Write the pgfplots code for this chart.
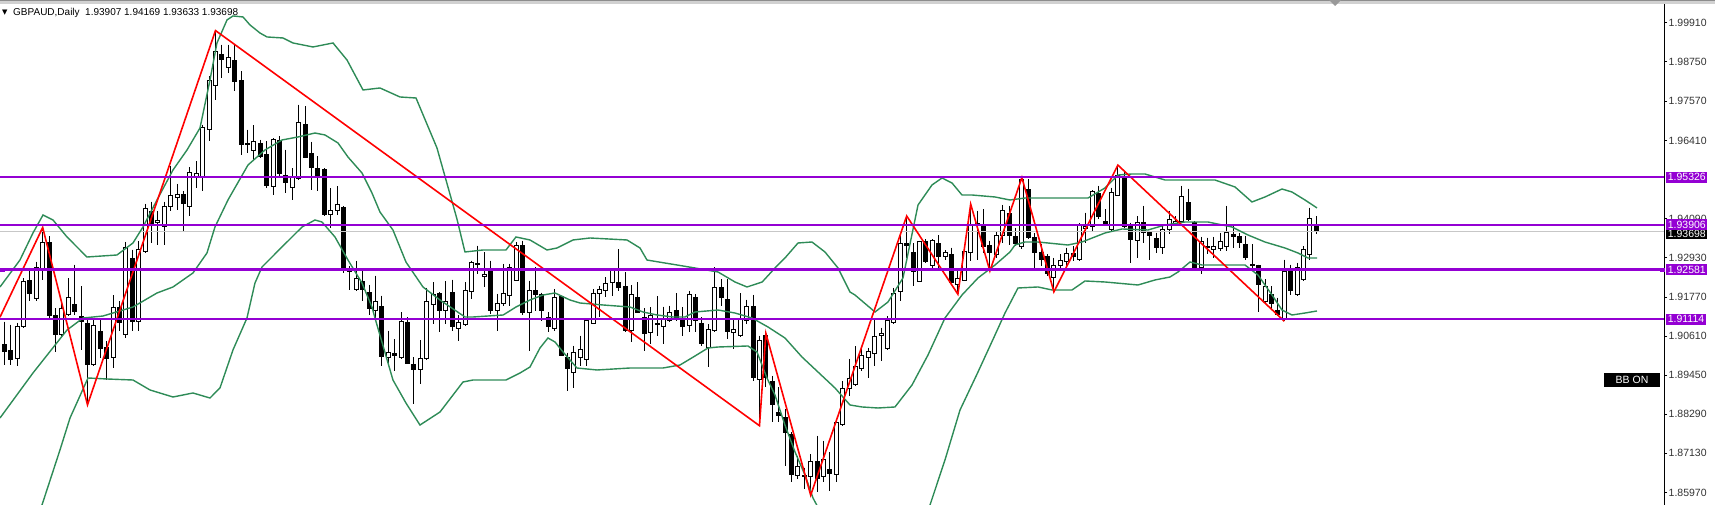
\documentclass[border=0pt]{standalone}
\usepackage{fontspec}
\setmainfont{Liberation Sans}
\newfontfamily\symfont{DejaVu Sans}
\usepackage{pgfplots}
\usepackage{pgfplotstable}
\pgfplotsset{compat=1.18}

\definecolor{bbgreen}{RGB}{46,139,87}
\definecolor{lvl}{RGB}{148,0,211}
\definecolor{zz}{RGB}{255,0,0}

% daily candles
\pgfplotstableread{
i o h l c
1 1.9035 1.9104 1.8976 1.9015
2 1.9017 1.9095 1.8976 1.8991
3 1.8994 1.9100 1.8971 1.9090
4 1.9090 1.9233 1.9085 1.9223
5 1.9225 1.9263 1.9164 1.9186
6 1.9171 1.9282 1.9164 1.9263
7 1.9258 1.9383 1.9228 1.9339
8 1.9339 1.9357 1.9114 1.9122
9 1.9122 1.9144 1.9015 1.9065
10 1.9065 1.9159 1.9055 1.9144
11 1.9124 1.9233 1.9119 1.9176
12 1.9154 1.9273 1.9124 1.9134
13 1.9119 1.9208 1.9020 1.9104
14 1.9097 1.9109 1.8857 1.8976
15 1.8976 1.9109 1.8971 1.9093
16 1.9075 1.9114 1.8996 1.9025
17 1.9027 1.9045 1.8931 1.8994
18 1.8996 1.9182 1.8966 1.9147
19 1.9146 1.9164 1.9075 1.9100
20 1.9065 1.9340 1.9055 1.9324
21 1.9290 1.9317 1.9075 1.9104
22 1.9104 1.9342 1.9075 1.9317
23 1.9312 1.9453 1.9307 1.9438
24 1.9429 1.9460 1.9337 1.9396
25 1.9397 1.9431 1.9332 1.9404
26 1.9386 1.9460 1.9332 1.9444
27 1.9446 1.9564 1.9431 1.9478
28 1.9472 1.9512 1.9436 1.9480
29 1.9480 1.9490 1.9370 1.9453
30 1.9446 1.9562 1.9416 1.9547
31 1.9530 1.9579 1.9500 1.9544
32 1.9530 1.9688 1.9490 1.9680
33 1.9673 1.9831 1.9639 1.9819
34 1.9805 1.9967 1.9762 1.9906
35 1.9896 1.9925 1.9826 1.9881
36 1.9858 1.9925 1.9841 1.9886
37 1.9878 1.9925 1.9787 1.9817
38 1.9819 1.9846 1.9599 1.9629
39 1.9632 1.9673 1.9604 1.9629
40 1.9611 1.9686 1.9584 1.9639
41 1.9632 1.9643 1.9589 1.9594
42 1.9599 1.9639 1.9500 1.9508
43 1.9505 1.9648 1.9478 1.9645
44 1.9641 1.9653 1.9530 1.9542
45 1.9537 1.9614 1.9485 1.9515
46 1.9502 1.9559 1.9465 1.9530
47 1.9528 1.9747 1.9525 1.9693
48 1.9688 1.9742 1.9589 1.9591
49 1.9601 1.9637 1.9495 1.9561
50 1.9559 1.9594 1.9490 1.9535
51 1.9554 1.9559 1.9416 1.9421
52 1.9421 1.9500 1.9381 1.9433
53 1.9433 1.9505 1.9421 1.9451
54 1.9443 1.9446 1.9248 1.9263
55 1.9261 1.9268 1.9198 1.9251
56 1.9198 1.9284 1.9195 1.9233
57 1.9223 1.9258 1.9164 1.9198
58 1.9191 1.9213 1.9124 1.9142
59 1.9136 1.9240 1.9112 1.9163
60 1.9149 1.9181 1.8973 1.9000
61 1.8998 1.9077 1.8973 1.9011
62 1.9008 1.9052 1.8958 1.9004
63 1.8998 1.9131 1.8993 1.9104
64 1.9100 1.9117 1.8978 1.8980
65 1.8978 1.8998 1.8859 1.8963
66 1.8963 1.9049 1.8919 1.8993
67 1.8993 1.9204 1.8990 1.9163
68 1.9156 1.9220 1.9097 1.9183
69 1.9186 1.9191 1.9072 1.9138
70 1.9136 1.9223 1.9097 1.9163
71 1.9191 1.9228 1.9077 1.9089
72 1.9082 1.9122 1.9047 1.9102
73 1.9095 1.9220 1.9092 1.9196
74 1.9193 1.9285 1.9171 1.9280
75 1.9277 1.9329 1.9245 1.9273
76 1.9238 1.9309 1.9206 1.9245
77 1.9255 1.9285 1.9126 1.9136
78 1.9138 1.9186 1.9077 1.9158
79 1.9158 1.9275 1.9151 1.9186
80 1.9181 1.9275 1.9151 1.9265
81 1.9225 1.9339 1.9225 1.9329
82 1.9329 1.9344 1.9122 1.9131
83 1.9131 1.9225 1.9018 1.9196
84 1.9196 1.9265 1.9136 1.9184
85 1.9184 1.9190 1.9106 1.9136
86 1.9116 1.9131 1.9072 1.9090
87 1.9082 1.9200 1.9077 1.9176
88 1.9178 1.9181 1.9002 1.9004
89 1.8998 1.9012 1.8899 1.8965
90 1.8953 1.9032 1.8906 1.9012
91 1.8998 1.9062 1.8973 1.9022
92 1.8991 1.9111 1.8973 1.9106
93 1.9099 1.9200 1.9096 1.9188
94 1.9188 1.9210 1.9116 1.9198
95 1.9195 1.9235 1.9176 1.9218
96 1.9220 1.9260 1.9181 1.9255
97 1.9220 1.9319 1.9195 1.9205
98 1.9207 1.9250 1.9072 1.9077
99 1.9077 1.9212 1.9042 1.9185
100 1.9176 1.9220 1.9129 1.9131
101 1.9116 1.9143 1.9017 1.9070
102 1.9072 1.9146 1.9037 1.9121
103 1.9099 1.9179 1.9062 1.9095
104 1.9090 1.9148 1.9037 1.9111
105 1.9106 1.9151 1.9103 1.9131
106 1.9136 1.9188 1.9106 1.9113
107 1.9113 1.9146 1.9062 1.9090
108 1.9092 1.9195 1.9072 1.9185
109 1.9176 1.9185 1.9072 1.9106
110 1.9099 1.9116 1.9032 1.9040
111 1.9027 1.9096 1.8968 1.9080
112 1.9077 1.9265 1.9072 1.9205
113 1.9205 1.9230 1.9151 1.9176
114 1.9168 1.9230 1.9052 1.9074
115 1.9072 1.9111 1.9022 1.9079
116 1.9062 1.9188 1.9057 1.9111
117 1.9106 1.9169 1.9096 1.9149
118 1.9149 1.9183 1.8928 1.8938
119 1.8933 1.9062 1.8795 1.9047
120 1.9064 1.9069 1.8909 1.8938
121 1.8925 1.8943 1.8805 1.8859
122 1.8834 1.8909 1.8805 1.8824
123 1.8820 1.8844 1.8676 1.8775
124 1.8770 1.8775 1.8627 1.8651
125 1.8648 1.8706 1.8637 1.8674
126 1.8648 1.8671 1.8607 1.8644
127 1.8644 1.8711 1.8589 1.8688
128 1.8688 1.8765 1.8597 1.8638
129 1.8644 1.8750 1.8627 1.8694
130 1.8666 1.8716 1.8602 1.8654
131 1.8651 1.8805 1.8627 1.8805
132 1.8800 1.8928 1.8795 1.8904
133 1.8904 1.8993 1.8884 1.8935
134 1.8918 1.9031 1.8913 1.8970
135 1.8964 1.9031 1.8957 1.9002
136 1.8997 1.9026 1.8937 1.9016
137 1.9010 1.9110 1.8972 1.9059
138 1.9064 1.9086 1.8987 1.9068
139 1.9023 1.9120 1.9021 1.9107
140 1.9100 1.9204 1.9096 1.9188
141 1.9192 1.9366 1.9165 1.9336
142 1.9335 1.9417 1.9293 1.9330
143 1.9308 1.9336 1.9209 1.9251
144 1.9224 1.9343 1.9221 1.9341
145 1.9340 1.9348 1.9279 1.9281
146 1.9269 1.9348 1.9254 1.9345
147 1.9336 1.9360 1.9254 1.9298
148 1.9296 1.9316 1.9288 1.9308
149 1.9302 1.9323 1.9219 1.9221
150 1.9214 1.9254 1.9185 1.9231
151 1.9227 1.9318 1.9224 1.9313
152 1.9308 1.9452 1.9284 1.9389
153 1.9389 1.9432 1.9288 1.9394
154 1.9387 1.9437 1.9308 1.9328
155 1.9330 1.9343 1.9254 1.9308
156 1.9303 1.9370 1.9293 1.9360
157 1.9358 1.9450 1.9338 1.9434
158 1.9424 1.9447 1.9330 1.9360
159 1.9356 1.9382 1.9328 1.9336
160 1.9326 1.9531 1.9318 1.9526
161 1.9496 1.9526 1.9348 1.9353
162 1.9353 1.9366 1.9254 1.9308
163 1.9308 1.9333 1.9269 1.9288
164 1.9296 1.9303 1.9239 1.9246
165 1.9234 1.9293 1.9192 1.9269
166 1.9271 1.9303 1.9259 1.9286
167 1.9283 1.9323 1.9259 1.9306
168 1.9306 1.9328 1.9283 1.9298
169 1.9288 1.9395 1.9283 1.9390
170 1.9379 1.9427 1.9338 1.9387
171 1.9387 1.9493 1.9372 1.9489
172 1.9483 1.9506 1.9407 1.9415
173 1.9402 1.9437 1.9387 1.9390
174 1.9377 1.9501 1.9372 1.9488
175 1.9478 1.9568 1.9476 1.9536
176 1.9534 1.9548 1.9382 1.9387
177 1.9392 1.9397 1.9277 1.9346
178 1.9343 1.9417 1.9293 1.9399
179 1.9397 1.9447 1.9338 1.9369
180 1.9368 1.9372 1.9288 1.9358
181 1.9350 1.9368 1.9308 1.9323
182 1.9323 1.9389 1.9303 1.9377
183 1.9377 1.9432 1.9363 1.9407
184 1.9389 1.9417 1.9387 1.9402
185 1.9402 1.9506 1.9397 1.9474
186 1.9458 1.9498 1.9402 1.9407
187 1.9399 1.9402 1.9259 1.9264
188 1.9264 1.9355 1.9244 1.9340
189 1.9328 1.9353 1.9303 1.9323
190 1.9318 1.9355 1.9293 1.9328
191 1.9320 1.9367 1.9313 1.9340
192 1.9328 1.9447 1.9313 1.9369
193 1.9363 1.9392 1.9323 1.9356
194 1.9356 1.9367 1.9323 1.9338
195 1.9333 1.9358 1.9288 1.9293
196 1.9273 1.9333 1.9254 1.9271
197 1.9271 1.9273 1.9133 1.9214
198 1.9162 1.9229 1.9160 1.9209
199 1.9184 1.9209 1.9138 1.9158
200 1.9138 1.9175 1.9120 1.9125
201 1.9110 1.9288 1.9105 1.9251
202 1.9254 1.9273 1.9184 1.9197
203 1.9184 1.9278 1.9180 1.9264
204 1.9229 1.9328 1.9224 1.9318
205 1.9303 1.9442 1.9288 1.9410
206 1.93907 1.94169 1.93633 1.93698
}\candles

\pgfplotsset{
  mt4/.style={
    at={(0pt,0pt)}, anchor=south west,
    scale only axis, width=1664pt, height=501pt,
    xmin=0.33, xmax=260.33, ymin=1.85599, ymax=2.00458,
  },
}

\begin{document}
\begin{tikzpicture}[x=1pt,y=1pt]

% wicks (high down to low)
\begin{axis}[mt4, hide axis]
\addplot[black, only marks, mark=*, mark size=0pt, mark options={draw=none, fill=none},
  error bars/.cd, y dir=minus, y explicit, error mark=none,
  error bar style={line width=1pt, black}]
  table[x=i, y=h, y error expr=\thisrow{h}-\thisrow{l}] {\candles};
\end{axis}

% bodies: invisible base, then bear and bull parts
\begin{axis}[mt4, hide axis, ybar stacked, bar width=4pt]
\addplot[draw=none, fill=none] table[x=i, y expr={min(\thisrow{o},\thisrow{c})}] {\candles};
\addplot[draw=black, fill=black, line width=1pt] table[x=i, y expr={max(\thisrow{o}-\thisrow{c},0)}] {\candles};
\addplot[draw=black, fill=white, line width=1pt] table[x=i, y expr={max(\thisrow{c}-\thisrow{o},0)}] {\candles};
\end{axis}

% indicators, levels, price scale
\begin{axis}[mt4, axis x line=none, axis y line*=right, clip mode=individual,
  ytick={1.9991,1.9875,1.9757,1.9641,1.9409,1.9293,1.9177,1.9061,1.8945,1.8829,1.8713,1.8597},
  yticklabels={1.99910,1.98750,1.97570,1.96410,1.94090,1.92930,1.91770,1.90610,1.89450,1.88290,1.87130,1.85970},
  tick align=outside, major tick length=3pt,
  y axis line style={line width=1pt, black},
  ytick style={line width=0.8pt, black},
  yticklabel style={font=\fontsize{10.5}{12}\selectfont, inner sep=0pt, xshift=1.5pt, text=black!80}]

\addplot[black!22, line width=1pt] coordinates {(0.33,1.93698) (260.33,1.93698)};

% Bollinger bands
\addplot[bbgreen, line width=1.4pt] coordinates {
(0.33,1.92065) (3.45,1.92865) (5.48,1.93666) (7.05,1.94200) (8.61,1.94052) (10.80,1.93548) (13.92,1.92954) (18.61,1.93014) (21.11,1.93370) (22.67,1.93844) (24.86,1.94645) (27.36,1.95535) (29.55,1.96128) (31.58,1.96781) (33.14,1.98204) (34.23,1.99302) (35.80,1.99984) (36.73,2.00103) (38.30,2.00073) (39.39,1.99836) (40.95,1.99598) (42.05,1.99480) (44.55,1.99450) (46.11,1.99302) (49.23,1.99183) (52.36,1.99302) (54.55,1.98797) (57.05,1.97908) (59.70,1.97967) (62.83,1.97700) (65.33,1.97670) (68.61,1.96187) (71.73,1.94081) (72.98,1.93103) (75.80,1.93162) (79.39,1.93162) (80.95,1.93548) (83.14,1.93459) (85.80,1.93162) (87.36,1.93221) (89.86,1.93459) (92.52,1.93518) (98.30,1.93459) (100.33,1.93221) (101.42,1.92865) (106.11,1.92717) (108.92,1.92628) (112.52,1.92510) (115.17,1.92213) (117.05,1.92065) (119.42,1.92213) (121.42,1.92628) (122.98,1.92925) (125.02,1.93370) (127.20,1.93399) (129.23,1.93103) (131.27,1.92628) (133.14,1.91916) (133.92,1.91827) (137.05,1.91323) (139.08,1.91620) (141.42,1.92332) (143.77,1.94497) (145.95,1.95090) (147.52,1.95298) (149.08,1.95149) (150.64,1.94793) (152.20,1.94793) (155.80,1.94734) (158.14,1.94645) (160.48,1.94704) (170.33,1.94704) (172.98,1.95001) (175.02,1.95386) (177.20,1.95416) (179.23,1.95416) (182.36,1.95238) (190.17,1.95238) (193.30,1.95031) (195.95,1.94586) (197.98,1.94734) (200.64,1.94971) (202.20,1.94882) (204.23,1.94645) (206.11,1.94408)};
\addplot[bbgreen, line width=1.4pt] coordinates {
(0.33,1.88179) (5.48,1.89514) (10.80,1.90789) (13.30,1.91145) (16.42,1.91204) (21.11,1.91471) (24.86,1.91887) (27.36,1.92065) (30.48,1.92480) (32.67,1.93073) (33.92,1.93844) (35.95,1.94645) (39.08,1.95683) (41.73,1.96128) (44.39,1.96425) (46.89,1.96514) (49.55,1.96632) (51.11,1.96573) (53.14,1.96336) (54.70,1.95920) (56.89,1.95446) (58.45,1.94853) (59.70,1.94289) (61.73,1.93755) (63.76,1.92806) (66.42,1.92065) (69.08,1.91679) (72.98,1.91175) (74.23,1.91175) (78.95,1.91234) (80.95,1.91471) (83.14,1.91679) (85.17,1.91827) (87.05,1.91887) (89.39,1.91679) (90.95,1.91590) (94.55,1.91531) (98.77,1.91471) (100.80,1.91323) (102.98,1.91234) (105.48,1.91175) (107.36,1.91175) (108.92,1.91323) (112.52,1.91382) (115.17,1.91293) (117.83,1.91145) (120.33,1.90878) (122.98,1.90552) (125.64,1.89988) (128.14,1.89543) (130.80,1.89069) (133.14,1.88565) (135.02,1.88506) (137.52,1.88476) (140.17,1.88506) (142.83,1.89158) (145.33,1.90048) (147.98,1.91145) (150.64,1.91827) (153.14,1.92332) (155.80,1.92717) (158.14,1.93103) (158.92,1.93310) (160.48,1.93399) (162.52,1.93399) (167.20,1.93310) (169.39,1.93399) (172.98,1.93666) (175.64,1.93785) (179.70,1.93755) (182.36,1.93903) (185.48,1.93992) (189.08,1.93992) (192.83,1.93844) (195.33,1.93607) (197.98,1.93399) (201.11,1.93221) (203.14,1.93073) (204.70,1.92925) (206.11,1.92925)};
\addplot[bbgreen, line width=1.4pt] coordinates {
(3.45,1.83967) (6.89,1.85599) (9.70,1.87230) (11.27,1.88179) (14.08,1.89366) (17.05,1.89336) (21.11,1.89306) (23.77,1.89010) (27.36,1.88802) (30.48,1.88921) (33.14,1.88772) (34.70,1.89069) (36.73,1.90196) (38.92,1.91145) (40.17,1.92183) (41.27,1.92658) (44.39,1.93251) (47.52,1.93844) (49.55,1.94052) (50.64,1.93992) (52.67,1.93548) (54.70,1.92865) (56.89,1.92183) (58.45,1.91471) (58.92,1.91145) (61.73,1.89306) (63.76,1.88624) (65.95,1.87971) (69.08,1.88357) (72.67,1.89247) (74.23,1.89306) (79.39,1.89306) (81.58,1.89514) (83.14,1.89692) (84.70,1.90255) (85.95,1.90552) (87.05,1.90433) (88.30,1.90137) (90.48,1.89662) (93.61,1.89603) (98.77,1.89662) (103.92,1.89662) (106.58,1.89751) (108.92,1.90018) (110.95,1.90255) (112.52,1.90285) (117.20,1.90315) (118.61,1.90137) (120.17,1.89366) (121.42,1.88861) (122.98,1.87971) (124.55,1.87171) (126.11,1.86488) (127.36,1.85806) (130.02,1.84857) (136.27,1.83967) (142.52,1.84857) (145.64,1.85599) (147.98,1.86933) (150.33,1.88416) (153.14,1.89543) (155.80,1.90641) (157.36,1.91293) (159.39,1.92035) (162.52,1.92065) (164.70,1.91976) (167.83,1.91976) (169.86,1.92243) (172.98,1.92213) (178.14,1.92124) (180.80,1.92273) (183.14,1.92361) (184.39,1.92509) (186.27,1.92806) (188.14,1.92717) (194.86,1.92717) (196.89,1.92420) (199.08,1.91827) (200.64,1.91382) (202.20,1.91234) (204.23,1.91293) (206.11,1.91353)};

% zigzag
\addplot[zz, line width=1.6pt] coordinates {
(0.33,1.9117) (7,1.9383) (14,1.8857) (34,1.9967) (119,1.8795) (120,1.9069) (127,1.8589) (142,1.9417) (150,1.9185) (152,1.9452) (155,1.9254) (160,1.9531) (165,1.9192) (175,1.9568) (201,1.9105)};

% horizontal levels
\addplot[lvl, line width=2.2pt] coordinates {(0.33,1.95326) (260.33,1.95326)};
\addplot[lvl, line width=2.2pt] coordinates {(0.33,1.93906) (260.33,1.93906)};
\addplot[lvl, line width=2.2pt] coordinates {(0.33,1.92581) (260.33,1.92581)};
\addplot[lvl, line width=2.2pt] coordinates {(0.33,1.91114) (260.33,1.91114)};
\addplot[lvl, only marks, mark=square*, mark size=1.8pt] coordinates {(0.64,1.92581) (260.0,1.92581)};

\coordinate (P0) at (axis cs:260.33,1.93698);
\coordinate (L1) at (axis cs:260.33,1.95326);
\coordinate (L2) at (axis cs:260.33,1.93906);
\coordinate (L3) at (axis cs:260.33,1.92581);
\coordinate (L4) at (axis cs:260.33,1.91114);
\end{axis}

\tikzset{lab/.style={anchor=west, inner xsep=1.6pt, inner ysep=0.6pt, text=white,
  font=\fontsize{10.5}{11}\selectfont, minimum height=11pt, xshift=2pt}}
\node[lab, fill=black] at ([yshift=-2pt]P0) {1.93698};
\node[lab, fill=lvl] at (L1) {1.95326};
\node[lab, fill=lvl] at (L2) {1.93906};
\node[lab, fill=lvl] at (L3) {1.92581};
\node[lab, fill=lvl] at (L4) {1.91114};

\node[fill=black, text=white, minimum width=56pt, minimum height=14pt, inner sep=0pt,
  font=\fontsize{10.5}{11}\selectfont] at (1632,125) {BB ON};

% chart window frame and header
\fill[black!18] (0,501) rectangle (1715,505);
\draw[black!45, line width=1pt] (0,504.5) -- (1715,504.5);
\fill[black!40] (1329,505) -- (1341,505) -- (1335,499) -- cycle;
\node[anchor=west, inner sep=0pt, font=\fontsize{7}{8}\selectfont\symfont] at (2,492) {▼};
\node[anchor=west, inner sep=0pt, font=\fontsize{10}{12}\selectfont] at (13,492)
  {GBPAUD,Daily\ \ 1.93907 1.94169 1.93633 1.93698};

\pgfresetboundingbox
\path[use as bounding box] (0,0) rectangle (1715,505);
\end{tikzpicture}
\end{document}
